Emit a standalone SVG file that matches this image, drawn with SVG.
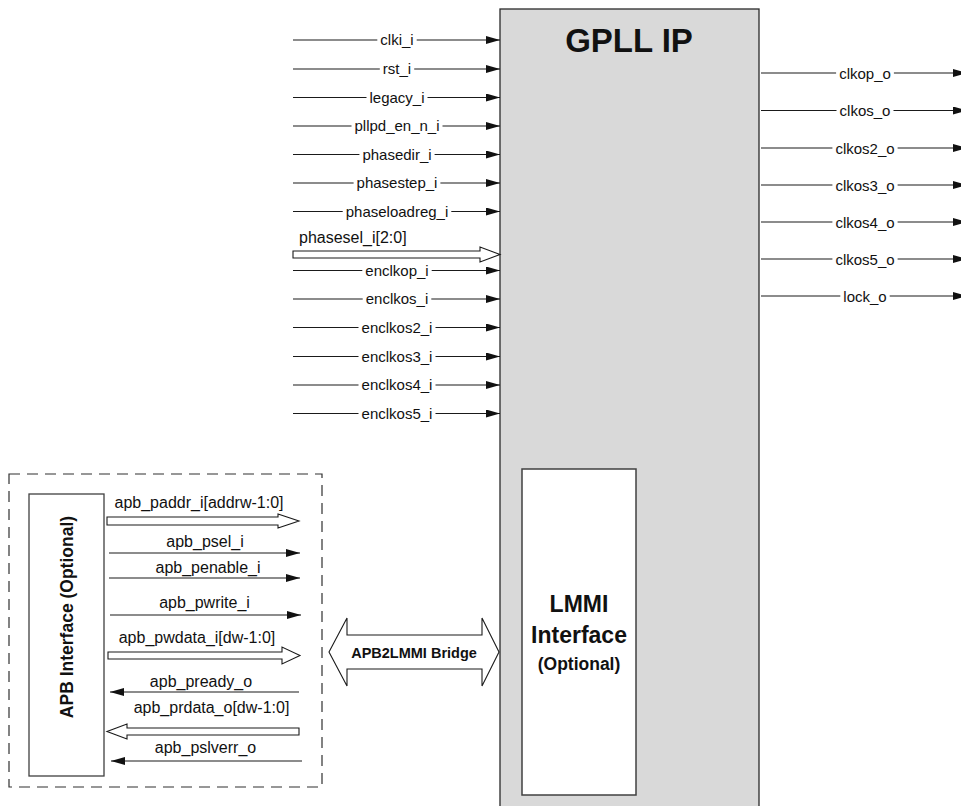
<svg xmlns="http://www.w3.org/2000/svg" width="961" height="806" viewBox="0 0 961 806">
<style>
  .sig { stroke: #1a1a1a; stroke-width: 1.1; fill: none; marker-end: url(#ah); }
  .bus { stroke: #1a1a1a; stroke-width: 1.1; fill: #ffffff; }
  .lbl { font-family: "Liberation Sans", Arial, sans-serif; font-size: 15px; fill: #111; text-anchor: middle; }
  .albl { font-family: "Liberation Sans", Arial, sans-serif; font-size: 16px; fill: #111; text-anchor: middle; }
  .bold { font-family: "Liberation Sans", Arial, sans-serif; font-weight: bold; fill: #111; text-anchor: middle; }
</style>
<defs>
  <marker id="ah" viewBox="0 0 14 8" refX="14" refY="4" markerWidth="14" markerHeight="8" markerUnits="userSpaceOnUse" orient="auto">
    <path d="M0,0 L14,4 L0,8 z" fill="#111"/>
  </marker>
</defs>
<rect x="0" y="0" width="961" height="806" fill="#ffffff"/>

<g id="gpll">
  <rect x="500" y="9" width="259" height="805" fill="#d9d9d9" stroke="#2a2a2a" stroke-width="1.3"/>
  <text class="bold" x="629" y="52" font-size="33">GPLL IP</text>
</g>

<g id="lmmi">
  <rect x="522" y="469" width="114" height="326" fill="#ffffff" stroke="#404040" stroke-width="1.5"/>
  <text class="bold" x="579" y="612" font-size="23">LMMI</text>
  <text class="bold" x="579" y="643" font-size="23">Interface</text>
  <text class="bold" x="579" y="670" font-size="17.5">(Optional)</text>
</g>

<g id="apb_region">
  <rect x="9" y="474" width="313" height="313" fill="none" stroke="#303030" stroke-width="1.2" stroke-dasharray="11 7"/>
</g>

<g id="apb">
  <rect x="29" y="494" width="75" height="282" fill="#ffffff" stroke="#404040" stroke-width="1.3"/>
  <text class="bold" x="73" y="617" font-size="17.5" transform="rotate(-90 73 617)">APB Interface (Optional)</text>
</g>

<g id="connectors">
  <!-- GPLL inputs -->
  <path class="sig" d="M293,40 H377.3 M416.7,40 H500"/>
  <text class="lbl" x="397" y="45">clki_i</text>
  <path class="sig" d="M293,69 H379.8 M414.2,69 H500"/>
  <text class="lbl" x="397" y="74">rst_i</text>
  <path class="sig" d="M293,97.5 H366.5 M427.5,97.5 H500"/>
  <text class="lbl" x="397" y="102.5">legacy_i</text>
  <path class="sig" d="M293,126 H351.5 M442.5,126 H500"/>
  <text class="lbl" x="397" y="131">pllpd_en_n_i</text>
  <path class="sig" d="M293,154.5 H359.4 M434.6,154.5 H500"/>
  <text class="lbl" x="397" y="159.5">phasedir_i</text>
  <path class="sig" d="M293,183 H353.6 M440.4,183 H500"/>
  <text class="lbl" x="397" y="188">phasestep_i</text>
  <path class="sig" d="M293,211.5 H342.7 M451.3,211.5 H500"/>
  <text class="lbl" x="397" y="216.5">phaseloadreg_i</text>
  <polygon class="bus" points="293,251 480,251 480,247 500,254.5 480,262 480,258 293,258"/>
  <text class="albl" x="299" y="243" font-size="15" style="text-anchor:start">phasesel_i[2:0]</text>
  <path class="sig" d="M293,270.5 H362.3 M431.7,270.5 H500"/>
  <text class="lbl" x="397" y="275.5">enclkop_i</text>
  <path class="sig" d="M293,299 H362.7 M431.3,299 H500"/>
  <text class="lbl" x="397" y="304">enclkos_i</text>
  <path class="sig" d="M293,327.5 H358.5 M435.5,327.5 H500"/>
  <text class="lbl" x="397" y="332.5">enclkos2_i</text>
  <path class="sig" d="M293,356.5 H358.5 M435.5,356.5 H500"/>
  <text class="lbl" x="397" y="361.5">enclkos3_i</text>
  <path class="sig" d="M293,385 H358.5 M435.5,385 H500"/>
  <text class="lbl" x="397" y="390">enclkos4_i</text>
  <path class="sig" d="M293,413.5 H358.5 M435.5,413.5 H500"/>
  <text class="lbl" x="397" y="418.5">enclkos5_i</text>

  <!-- GPLL outputs -->
  <path class="sig" d="M761,73 H836.1 M893.9,73 H967"/>
  <text class="lbl" x="865" y="78.5">clkop_o</text>
  <path class="sig" d="M761,110.5 H836.5 M893.5,110.5 H967"/>
  <text class="lbl" x="865" y="116">clkos_o</text>
  <path class="sig" d="M761,148 H832.4 M897.6,148 H967"/>
  <text class="lbl" x="865" y="153.5">clkos2_o</text>
  <path class="sig" d="M761,185 H832.4 M897.6,185 H967"/>
  <text class="lbl" x="865" y="190.5">clkos3_o</text>
  <path class="sig" d="M761,222 H832.4 M897.6,222 H967"/>
  <text class="lbl" x="865" y="227.5">clkos4_o</text>
  <path class="sig" d="M761,259 H832.4 M897.6,259 H967"/>
  <text class="lbl" x="865" y="264.5">clkos5_o</text>
  <path class="sig" d="M761,296 H840.3 M889.7,296 H967"/>
  <text class="lbl" x="865" y="301.5">lock_o</text>

  <!-- APB signals -->
  <polygon class="bus" points="107,517 278,517 278,514 299,521 278,528 278,525 107,525"/>
  <text class="albl" x="199" y="508">apb_paddr_i[addrw-1:0]</text>
  <line class="sig" x1="109" y1="553" x2="300" y2="553"/>
  <text class="albl" x="205" y="547">apb_psel_i</text>
  <line class="sig" x1="109" y1="578" x2="300" y2="578"/>
  <text class="albl" x="208" y="573">apb_penable_i</text>
  <line class="sig" x1="110" y1="615" x2="301" y2="615"/>
  <text class="albl" x="204.5" y="608">apb_pwrite_i</text>
  <polygon class="bus" points="108,652 282,652 282,647 300,655.5 282,664 282,659 108,659"/>
  <text class="albl" x="197" y="643">apb_pwdata_i[dw-1:0]</text>
  <line class="sig" x1="299" y1="692" x2="110" y2="692"/>
  <text class="albl" x="201" y="687">apb_pready_o</text>
  <polygon class="bus" points="299,728 127,728 127,724 107,731.5 127,739 127,735 299,735"/>
  <text class="albl" x="211.5" y="713">apb_prdata_o[dw-1:0]</text>
  <line class="sig" x1="302" y1="761" x2="111" y2="761"/>
  <text class="albl" x="205.5" y="753">apb_pslverr_o</text>

  <!-- APB2LMMI bridge -->
  <polygon class="bus" points="329,652 347,618 347,635 482,635 482,618 499,652 482,686 482,669 347,669 347,686"/>
  <text class="bold" x="414" y="658" font-size="14.5">APB2LMMI Bridge</text>
</g>
</svg>
